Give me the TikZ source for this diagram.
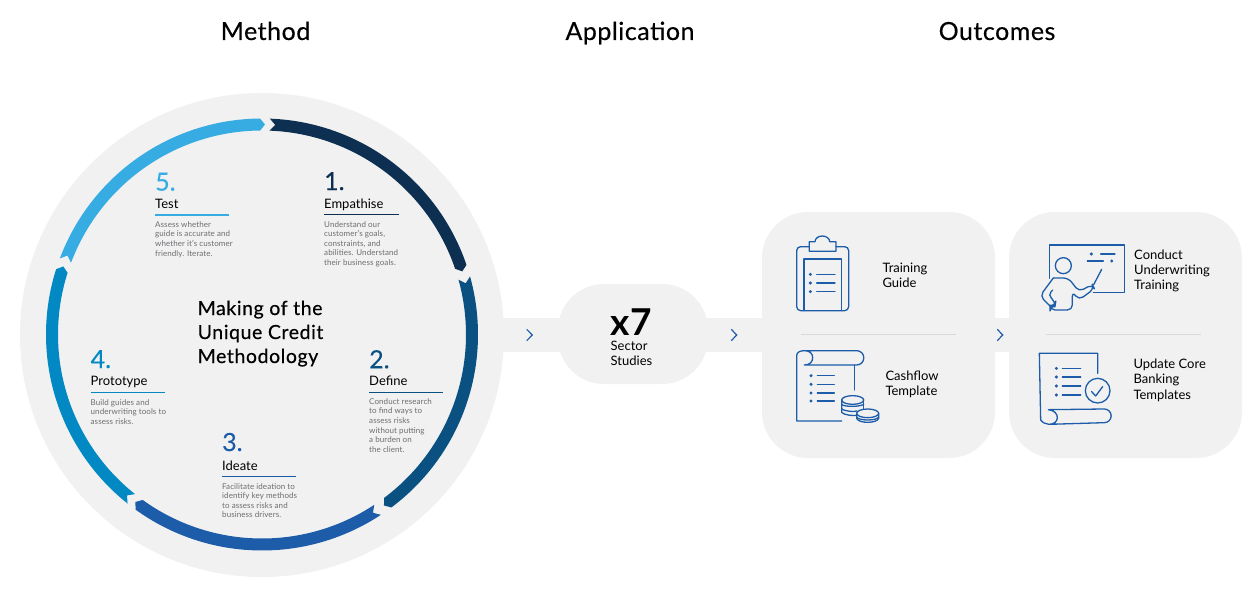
\documentclass[tikz,border=0pt]{standalone}
\usepackage{fontspec}
\setmainfont{Lato}
\definecolor{bgc}{HTML}{F1F1F2}
\definecolor{cone}{HTML}{0D2F52}
\definecolor{ctwo}{HTML}{0A5080}
\definecolor{cthree}{HTML}{1D5CA8}
\definecolor{cfour}{HTML}{0288C2}
\definecolor{cfive}{HTML}{36ACE2}
\definecolor{bodyc}{HTML}{6D6E71}
\definecolor{sepc}{HTML}{D9D9D9}
\newcommand{\ringseg}[3]{% start, end, colour
  \fill[#3] (#1:216) arc[start angle=#1,end angle=#2,radius=216]
    -- ({#2+1.3}:210) -- (#2:204) arc[start angle=#2,end angle=#1,radius=204]
    -- ({#1+1.5}:210) -- cycle;}
\tikzset{
  x=1pt,y=1pt,
  title/.style={anchor=base,inner sep=0pt,font=\fontsize{25}{30}\selectfont\addfontfeature{LetterSpace=2,FakeBold=0.3},text=black},
  numtxt/.style={anchor=base west,inner sep=0pt,font=\fontsize{25}{30}\selectfont\addfontfeature{FakeBold=0.2}},
  head/.style={anchor=base west,inner sep=0pt,font=\fontsize{13}{15}\selectfont,text=black},
  bodytxt/.style={anchor=base west,inner sep=0pt,font=\fontsize{8}{9.6}\selectfont\addfontfeature{LetterSpace=1},text=bodyc,align=left},
  maintxt/.style={anchor=base west,inner sep=0pt,font=\fontsize{19.5}{24}\selectfont\addfontfeature{LetterSpace=3,FakeBold=0.3},text=black,align=left},
  label/.style={anchor=base west,inner sep=0pt,font=\fontsize{13}{15.4}\selectfont,text=black,align=left},
  ico/.style={draw=cthree,line width=1.3pt,line join=round,line cap=round},
  chev/.style={draw=cthree,line width=1.2pt},
  sepl/.style={draw=sepc,line width=1pt},
  rulel/.style={line width=1.3pt},
}
\begin{document}
\begin{tikzpicture}[yscale=-1]
\useasboundingbox (0,0) rectangle (1259,594);
\fill[white] (0,0) rectangle (1259,594);
% backgrounds
\fill[bgc] (262,335) circle[radius=242];
\fill[bgc] (480,317.5) rectangle (1020,352);
\fill[bgc,rounded corners=46] (558,284) rectangle (708,384);
\fill[bgc,rounded corners=46] (762,212) rectangle (995,458);
\fill[bgc,rounded corners=46] (1009,212) rectangle (1242,458);
% ring
\begin{scope}[shift={(262,334.5)}]
\ringseg{272.1}{341.2}{cone}
\ringseg{344.4}{413.2}{ctwo}
\ringseg{416.6}{485.8}{cthree}
\ringseg{488.5}{557.6}{cfour}
\ringseg{560.6}{629.5}{cfive}
\end{scope}
% titles
\node[title] (tmethod) at (265.5,40) {Method};
\node[title] (tapp) at (630,40) {Application};
\node[title] (tout) at (997,40) {Outcomes};
% centre
\node[maintxt] (centre) at (197.5,363) {Making of the\\Unique Credit\\Methodology};
% steps
\node[numtxt,text=cone] (n1) at (324,190) {1.};
\node[head] (h1) at (324,208) {Empathise};
\coordinate (r1a) at (324,214.7); \coordinate (r1b) at (399,214.7);
\draw[rulel,cone] (r1a) -- (r1b);
\node[bodytxt] (b1) at (324,265.4) {Understand our\\customer's goals,\\constraints, and\\abilities. Understand\\their business goals.};
\node[numtxt,text=ctwo] (n2) at (369,368.3) {2.};
\node[head] (h2) at (369,385.3) {Define};
\coordinate (r2a) at (369,392.3); \coordinate (r2b) at (443,392.3);
\draw[rulel,ctwo] (r2a) -- (r2b);
\node[bodytxt] (b2) at (369,452.3) {Conduct research\\to find ways to\\assess risks\\without putting\\a burden on\\the client.};
\node[numtxt,text=cthree] (n3) at (222,451) {3.};
\node[head] (h3) at (222,470) {Ideate};
\coordinate (r3a) at (222,476.7); \coordinate (r3b) at (296,476.7);
\draw[rulel,cthree] (r3a) -- (r3b);
\node[bodytxt] (b3) at (222,517.8) {Facilitate ideation to\\identify key methods\\to assess risks and\\business drivers.};
\node[numtxt,text=cfour] (n4) at (90.5,368) {4.};
\node[head] (h4) at (90.5,385) {Prototype};
\coordinate (r4a) at (90.5,392.3); \coordinate (r4b) at (165,392.3);
\draw[rulel,cfour] (r4a) -- (r4b);
\node[bodytxt] (b4) at (90.5,424.2) {Build guides and\\underwriting tools to\\assess risks.};
\node[numtxt,text=cfive] (n5) at (155,190.6) {5.};
\node[head] (h5) at (155,208) {Test};
\coordinate (r5a) at (155,215); \coordinate (r5b) at (229,215);
\draw[rulel,cfive] (r5a) -- (r5b);
\node[bodytxt] (b5) at (155,256.1) {Assess whether\\guide is accurate and\\whether it's customer\\friendly. Iterate.};
% pill
\node[anchor=base west,inner sep=0pt,font=\fontsize{37}{37}\selectfont\bfseries,text depth=0pt,text=black] (x7) at (610.5,335) {x7};
\node[label] (sector) at (610.5,365.4) {Sector\\Studies};
% chevrons
\draw[chev] (526.7,329.3) -- (532.3,335) -- (526.7,340.7);
\draw[chev] (731.3,329.3) -- (736.7,335) -- (731.3,340.7);
\draw[chev] (997.3,329.3) -- (1002.7,335) -- (997.3,340.7);
% separators
\draw[sepl] (801,334.5) -- (956,334.5);
\draw[sepl] (1046,334.5) -- (1201,334.5);
% labels
\node[label] (l1) at (882.3,287.4) {Training\\Guide};
\node[label] (l2) at (885.3,395.4) {Cashflow\\Template};
\node[label] (l3) at (1134,289.8) {Conduct\\Underwriting\\Training};
\node[label] (l4) at (1133.3,399.1) {Update Core\\Banking\\Templates};
% clipboard icon
\begin{scope}[shift={(760,210)},scale=1/3]
\draw[ico,rounded corners=4] (148,110) -- (110,110) -- (110,302) -- (266,302) -- (266,110) -- (228,110);
\draw[ico] (148,95) -- (165,95) arc[start angle=180,end angle=360,x radius=22,y radius=17] -- (228,95) -- (228,124) -- (148,124) -- cycle;
\draw[ico] (132,302) -- (132,147) -- (244,147) -- (244,302);
\foreach \yy in {193,219,245} {
  \fill[cthree] (151,\yy) circle[radius=5];
  \draw[ico] (170,\yy) -- (225,\yy);
}
\end{scope}
% scroll with coins icon
\begin{scope}[shift={(760,335)},scale=1/3]
\draw[ico] (245,258) -- (110,258) -- (110,62) .. controls (110,52) and (120,47) .. (133,47) -- (290,47)
  arc[start angle=-90,end angle=90,radius=21.5] -- (133,90)
  .. controls (150,90) and (158,80) .. (158,68) .. controls (158,56) and (150,47) .. (133,47);
\draw[ico] (284,90) -- (284,165);
\foreach \yy in {122,148,174,198} {
  \fill[cthree] (153,\yy) circle[radius=5];
  \draw[ico] (172,\yy) -- (223,\yy);
}
\draw[ico] (278,195) ellipse[x radius=33,y radius=13];
\draw[ico] (245,195) -- (245,232) .. controls (250,240) and (280,243) .. (290,241);
\draw[ico] (245,208) .. controls (250,216) and (300,216) .. (311,208);
\draw[ico] (245,221) .. controls (250,229) and (285,231) .. (290,228);
\draw[ico] (311,195) -- (311,222);
\draw[ico] (323,235) ellipse[x radius=33,y radius=13];
\draw[ico] (290,235) -- (290,250) .. controls (295,266) and (351,266) .. (356,250) -- (356,235);
\draw[ico] (290,246) .. controls (295,258) and (351,258) .. (356,246);
\end{scope}
% teacher icon
\begin{scope}[shift={(1005,210)},scale=1/3]
\draw[ico] (134,205) -- (134,105) -- (358,105) -- (358,248) -- (265,248);
\draw[ico] (175,167) circle[radius=24];
\fill[cthree] (259,132) circle[radius=5];
\fill[cthree] (320,153) circle[radius=5];
\draw[ico] (287,132) -- (330,132);
\draw[ico] (247,153) -- (295,153);
\draw[ico] (290,178) -- (266,224);
\draw[ico,rounded corners=5] (145,204) -- (190,204) -- (222,245) -- (262,223) -- (268,236) -- (222,270) -- (202,245) -- (202,300) -- (135,300) -- (135,288) -- (150,288) -- (152,276) -- (128,255) -- (143,240);
\draw[ico,rounded corners=5] (145,204) -- (105,258) -- (135,288);
\end{scope}
% template with check icon
\begin{scope}[shift={(1005,335)},scale=1/3]
\draw[ico] (278,115) -- (278,55) -- (103,55) -- (107,255) .. controls (112,262) and (122,268) .. (132,268) -- (298,263)
  arc[start angle=90,end angle=-90,radius=20.5] -- (130,224)
  .. controls (148,226) and (157,236) .. (157,248) .. controls (157,260) and (146,268) .. (132,268);
\foreach \yy in {100,126,153,180} {
  \fill[cthree] (154,\yy) circle[radius=5];
  \draw[ico] (172,\yy) -- (227,\yy);
}
\draw[ico] (278,167) circle[radius=37];
\draw[ico] (260,170) -- (272,183) -- (293,155);
\end{scope}
\end{tikzpicture}
\end{document}
